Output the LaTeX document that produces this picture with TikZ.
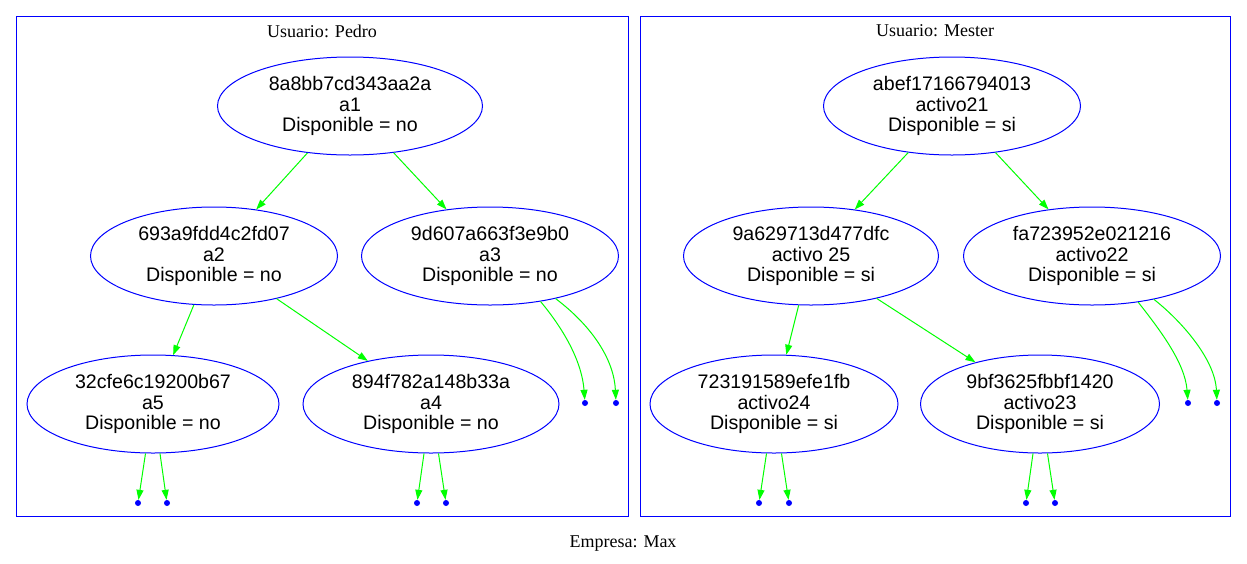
\documentclass[tikz,border=0pt]{standalone}
\usepackage{fontspec}
\setmainfont{Liberation Serif}
\newfontfamily\nodefont{Liberation Sans}
\usetikzlibrary{shapes.geometric,arrows.meta}
\definecolor{gvblue}{RGB}{0,0,255}
\definecolor{gvgreen}{RGB}{0,255,0}
\begin{document}
\begin{tikzpicture}[x=1pt,y=-1pt,
  enode/.style={ellipse, draw=gvblue, line width=1pt, inner sep=0pt, minimum width=#1, minimum height=98pt, align=center, font=\nodefont\fontsize{19.6}{20.3}\selectfont, execute at begin node={\rule{0pt}{21.5pt}}},
  pnode/.style={circle, fill=gvblue, inner sep=0pt, minimum size=6pt},
  gvedge/.style={draw=gvgreen, line width=1pt, -{Triangle[length=10pt,width=7pt]}},
  cluster/.style={draw=gvblue, line width=1pt},
  title/.style={font=\fontsize{18}{20}\selectfont}]
\useasboundingbox (0,0) rectangle (1247,563);
% clusters
\draw[cluster] (16,16) rectangle (628,516);
\draw[cluster] (640,16) rectangle (1230,516);
\node[title] (t1) at (322,31) {Usuario: Pedro};
\node[title] (t2) at (935,31) {Usuario: Mester};
\node[title] (t3) at (623,544) {Empresa: Max};
% left tree
\node[enode=265pt] (a1) at (350,106) {8a8bb7cd343aa2a\\a1\\Disponible = no};
\node[enode=247pt] (a2) at (214,256) {693a9fdd4c2fd07\\a2\\Disponible = no};
\node[enode=257pt] (a3) at (490,256) {9d607a663f3e9b0\\a3\\Disponible = no};
\node[enode=252pt] (a5) at (153,404) {32cfe6c19200b67\\a5\\Disponible = no};
\node[enode=256pt] (a4) at (431,404) {894f782a148b33a\\a4\\Disponible = no};
\node[pnode] (p31) at (585,403) {};
\node[pnode] (p32) at (616,403) {};
\node[pnode] (p51) at (138,503) {};
\node[pnode] (p52) at (167,503) {};
\node[pnode] (p41) at (417,503) {};
\node[pnode] (p42) at (446,503) {};
\draw[gvedge] (a1) -- (a2);
\draw[gvedge] (a1) -- (a3);
\draw[gvedge] (a2) -- (a5);
\draw[gvedge] (a2) -- (a4);
\draw[gvedge] (a5) -- (p51);
\draw[gvedge] (a5) -- (p52);
\draw[gvedge] (a4) -- (p41);
\draw[gvedge] (a4) -- (p42);
\draw[gvedge] (a3.-42) .. controls +(25,30) and +(-3,-40) .. (p31);
\draw[gvedge] (a3.-33) .. controls +(37,28) and +(-2,-43) .. (p32);
% right tree
\node[enode=257pt] (m21) at (952,106) {abef17166794013\\activo21\\Disponible = si};
\node[enode=255pt] (m25) at (811,256) {9a629713d477dfc\\activo 25\\Disponible = si};
\node[enode=257pt] (m22) at (1092,256) {fa723952e021216\\activo22\\Disponible = si};
\node[enode=248pt] (m24) at (774,404) {723191589efe1fb\\activo24\\Disponible = si};
\node[enode=239pt] (m23) at (1040,404) {9bf3625fbbf1420\\activo23\\Disponible = si};
\node[pnode] (q21) at (1188,403) {};
\node[pnode] (q22) at (1217,403) {};
\node[pnode] (q41) at (759,503) {};
\node[pnode] (q42) at (789,503) {};
\node[pnode] (q31) at (1026,503) {};
\node[pnode] (q32) at (1055,503) {};
\draw[gvedge] (m21) -- (m25);
\draw[gvedge] (m21) -- (m22);
\draw[gvedge] (m25) -- (m24);
\draw[gvedge] (m25) -- (m23);
\draw[gvedge] (m24) -- (q41);
\draw[gvedge] (m24) -- (q42);
\draw[gvedge] (m23) -- (q31);
\draw[gvedge] (m23) -- (q32);
\draw[gvedge] (m22.-45) .. controls +(22,28) and +(-3,-40) .. (q21);
\draw[gvedge] (m22.-35) .. controls +(29,23) and +(-2,-43) .. (q22);
\end{tikzpicture}
\end{document}
